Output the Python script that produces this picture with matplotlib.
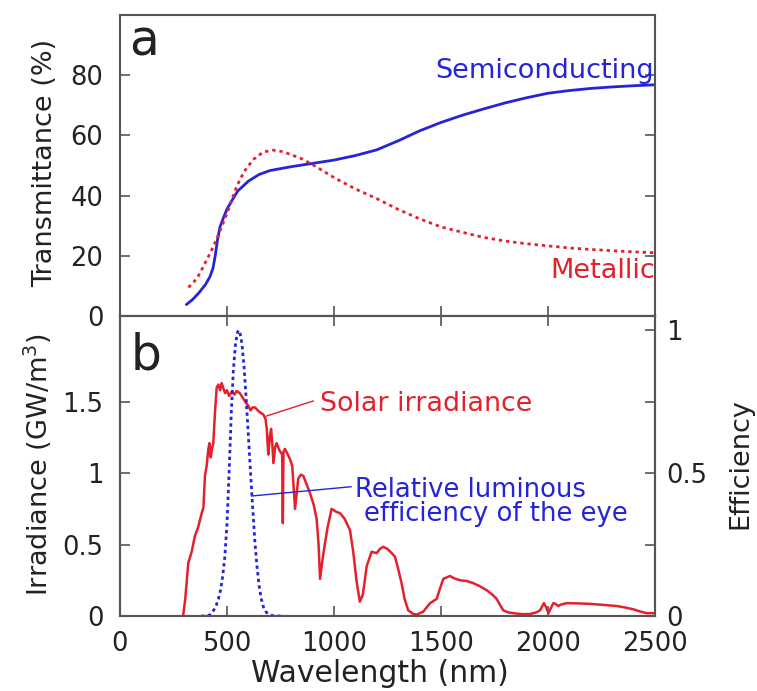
import matplotlib
matplotlib.use("Agg")
import matplotlib.pyplot as plt
from matplotlib.ticker import FixedLocator

plt.rcParams['font.family'] = ['DejaVu Sans']

# ---- panel a: transmittance of the two film types ----
semi_wl = [310, 340, 370, 400, 420, 435, 445, 455, 467, 480, 500, 520, 550, 600,
           650, 700, 800, 900, 1000, 1100, 1200, 1300, 1400, 1500, 1600, 1700,
           1800, 1900, 2000, 2100, 2200, 2300, 2400, 2500]
semi_T = [3.8, 5.5, 7.8, 10.5, 13.0, 16.0, 20.0, 25.0, 29.5, 32.0, 35.5, 38.0, 41.5,
          44.8, 47.0, 48.3, 49.6, 50.7, 51.8, 53.3, 55.2, 58.2, 61.5, 64.3, 66.7,
          68.8, 70.8, 72.5, 74.0, 74.9, 75.6, 76.1, 76.5, 76.8]

metal_wl = [320, 360, 390, 415, 436, 460, 483, 510, 545, 580, 623, 670, 716, 760,
            800, 850, 900, 1000, 1100, 1200, 1300, 1400, 1500, 1600, 1700, 1800,
            1900, 2000, 2100, 2200, 2300, 2400, 2500]
metal_T = [9.5, 12.5, 16.5, 20.0, 23.0, 27.0, 31.0, 36.0, 43.0, 48.0, 52.0, 54.5,
           55.1, 54.6, 53.6, 52.2, 50.3, 46.0, 42.2, 39.0, 35.4, 32.3, 29.6, 27.8,
           26.1, 24.9, 24.0, 23.3, 22.6, 22.1, 21.7, 21.3, 21.0]

# ---- panel b: solar spectrum and eye response ----
solar_wl = [295, 305, 319, 335, 350, 365, 382, 390, 397, 405, 413, 418, 424, 430,
            436, 445, 452, 460, 468, 475, 482, 491, 500, 510, 522, 535, 545, 560,
            569, 585, 600, 610, 620, 631, 650, 670, 680, 686, 693, 700, 706, 712,
            717, 725, 732, 745, 758, 761, 764, 771, 794, 805, 818, 825, 833, 845,
            857, 870, 888, 905, 919, 928, 935, 945, 958, 970, 989, 1010, 1028,
            1050, 1075, 1090, 1105, 1121, 1135, 1153, 1176, 1199, 1215, 1230, 1250,
            1270, 1285, 1300, 1316, 1330, 1347, 1370, 1386, 1417, 1449, 1480, 1495,
            1511, 1542, 1560, 1589, 1620, 1651, 1680, 1714, 1740, 1760, 1775, 1791,
            1815, 1838, 1880, 1916, 1945, 1963, 1981, 1992, 2002, 2012, 2025, 2035,
            2048, 2060, 2087, 2150, 2196, 2260, 2321, 2360, 2399, 2430, 2461, 2500]
solar_E = [0.0, 0.12, 0.37, 0.45, 0.56, 0.62, 0.72, 0.76, 0.98, 1.05, 1.17, 1.21,
           1.11, 1.17, 1.21, 1.45, 1.60, 1.62, 1.58, 1.63, 1.60, 1.56, 1.58, 1.54,
           1.57, 1.55, 1.575, 1.56, 1.54, 1.50, 1.47, 1.44, 1.46, 1.46, 1.43, 1.41,
           1.38, 1.31, 1.13, 1.25, 1.31, 1.20, 1.07, 1.18, 1.21, 1.16, 1.13, 0.65,
           1.15, 1.17, 1.10, 1.05, 0.75, 0.85, 0.96, 0.99, 0.98, 0.93, 0.86, 0.78,
           0.68, 0.50, 0.26, 0.38, 0.51, 0.62, 0.75, 0.73, 0.72, 0.68, 0.60, 0.45,
           0.25, 0.10, 0.15, 0.35, 0.45, 0.44, 0.47, 0.485, 0.47, 0.44, 0.415,
           0.33, 0.23, 0.12, 0.04, 0.015, 0.01, 0.03, 0.09, 0.12, 0.19, 0.26, 0.28,
           0.265, 0.25, 0.245, 0.23, 0.21, 0.18, 0.15, 0.12, 0.08, 0.04, 0.025,
           0.02, 0.013, 0.014, 0.025, 0.04, 0.09, 0.06, 0.02, 0.05, 0.09, 0.085,
           0.07, 0.08, 0.09, 0.088, 0.085, 0.078, 0.07, 0.06, 0.047, 0.032, 0.02,
           0.02]

eye_wl = [380, 390, 400, 410, 420, 430, 440, 450, 460, 470, 480, 490, 500, 510,
          520, 530, 540, 550, 555, 560, 570, 580, 590, 600, 610, 620, 630, 640,
          650, 660, 670, 680, 690, 700, 710, 720, 730, 740, 750]
eye_V = [0.0, 0.0001, 0.0004, 0.0012, 0.004, 0.0116, 0.023, 0.038, 0.06, 0.091,
         0.139, 0.208, 0.323, 0.503, 0.71, 0.862, 0.954, 0.995, 1.0, 0.995, 0.952,
         0.87, 0.757, 0.631, 0.503, 0.381, 0.265, 0.175, 0.107, 0.061, 0.032,
         0.017, 0.0082, 0.0041, 0.0021, 0.00105, 0.00052, 0.00025, 0.00012]

wl_ticks = [0, 500, 1000, 1500, 2000, 2500]
T_ticks = [0, 20, 40, 60, 80]
E_ticks = [0, 0.5, 1, 1.5]
E_labels = ['0', '0.5', '1', '1.5']
eff_ticks = [0, 0.5, 1]
eff_labels = ['0', '0.5', '1']

RED = '#e3202b'
BLUE = '#2424d8'
FRAME = '#555555'

fig = plt.figure(figsize=(7.57, 6.91), dpi=100)
axa = fig.add_axes([0.1585, 0.5427, 0.7067, 0.4356])
axb = fig.add_axes([0.1585, 0.1085, 0.7067, 0.4342])
ax2 = axb.twinx()

for ax in (axa, axb, ax2):
    for sp in ax.spines.values():
        sp.set_color(FRAME)
        sp.set_linewidth(1.5)
    ax.tick_params(which='both', direction='in', length=7, width=1.2,
                   color=FRAME, labelsize=18.5, labelcolor='#222222')

# panel a
axa.plot(semi_wl, semi_T, color=BLUE, lw=2.0, solid_capstyle='round')
axa.plot(metal_wl, metal_T, color=RED, lw=2.0, ls=(0, (1.2, 1.4)))
axa.set_xlim(0, 2500)
axa.set_ylim(0, 100)
axa.set_xticks(wl_ticks[1:-1])
axa.tick_params(axis='x', labelbottom=False)
axa.set_yticks(T_ticks)
axa.tick_params(axis='y', right=True, pad=12)
axa.text(0.018, 0.867, 'a', transform=axa.transAxes, fontsize=35,
         va='baseline', ha='left', color='#222222')
axa.text(2497, 79.0, 'Semiconducting', color=BLUE, fontsize=19.5,
         ha='right', va='baseline')
axa.text(2500, 12.6, 'Metallic', color=RED, fontsize=19.5,
         ha='right', va='baseline')

# panel b
axb.plot(solar_wl, solar_E, color=RED, lw=1.8)
axb.set_xlim(0, 2500)
axb.set_ylim(0, 2.1)
axb.set_xticks(wl_ticks)
axb.tick_params(axis='x', top=True, pad=11)
axb.set_yticks(E_ticks)
axb.set_yticklabels(E_labels)
axb.tick_params(axis='y', pad=12)

ax2.plot(eye_wl, eye_V, color=BLUE, lw=2.0, ls=(0, (1.2, 1.2)))
ax2.set_ylim(0, 1.05)
ax2.set_yticks(eff_ticks)
ax2.set_yticklabels(eff_labels)
ax2.yaxis.set_minor_locator(FixedLocator([0.25, 0.75]))
ax2.tick_params(axis='y', which='both', pad=8)

axb.text(0.02, 0.823, 'b', transform=axb.transAxes, fontsize=35,
         va='baseline', ha='left', color='#222222')
axb.plot([685, 903], [1.40, 1.505], color=RED, lw=1.0)
axb.text(935, 1.435, 'Solar irradiance', color=RED, fontsize=19.4,
         ha='left', va='baseline')
axb.plot([615, 1080], [0.84, 0.905], color=BLUE, lw=1.0)
axb.text(1100, 0.833, 'Relative luminous', color=BLUE, fontsize=18.6,
         ha='left', va='baseline')
axb.text(1138, 0.665, 'efficiency of the eye', color=BLUE, fontsize=18.6,
         ha='left', va='baseline')

# axis titles
fig.text(0.0594, 0.7648, 'Transmittance (%)', rotation=90, ha='center',
         va='center', fontsize=19.5, color='#222222')
fig.text(0.050, 0.3285, 'Irradiance (GW/m$^3$)', rotation=90, ha='center',
         va='center', fontsize=19.5, color='#222222')
fig.text(0.9775, 0.3285, 'Efficiency', rotation=90, ha='center',
         va='center', fontsize=19.5, color='#222222')
fig.text(0.5013, 0.0130, 'Wavelength (nm)', ha='center', va='baseline',
         fontsize=21.5, color='#222222')

fig.savefig('out.png', dpi=100)
